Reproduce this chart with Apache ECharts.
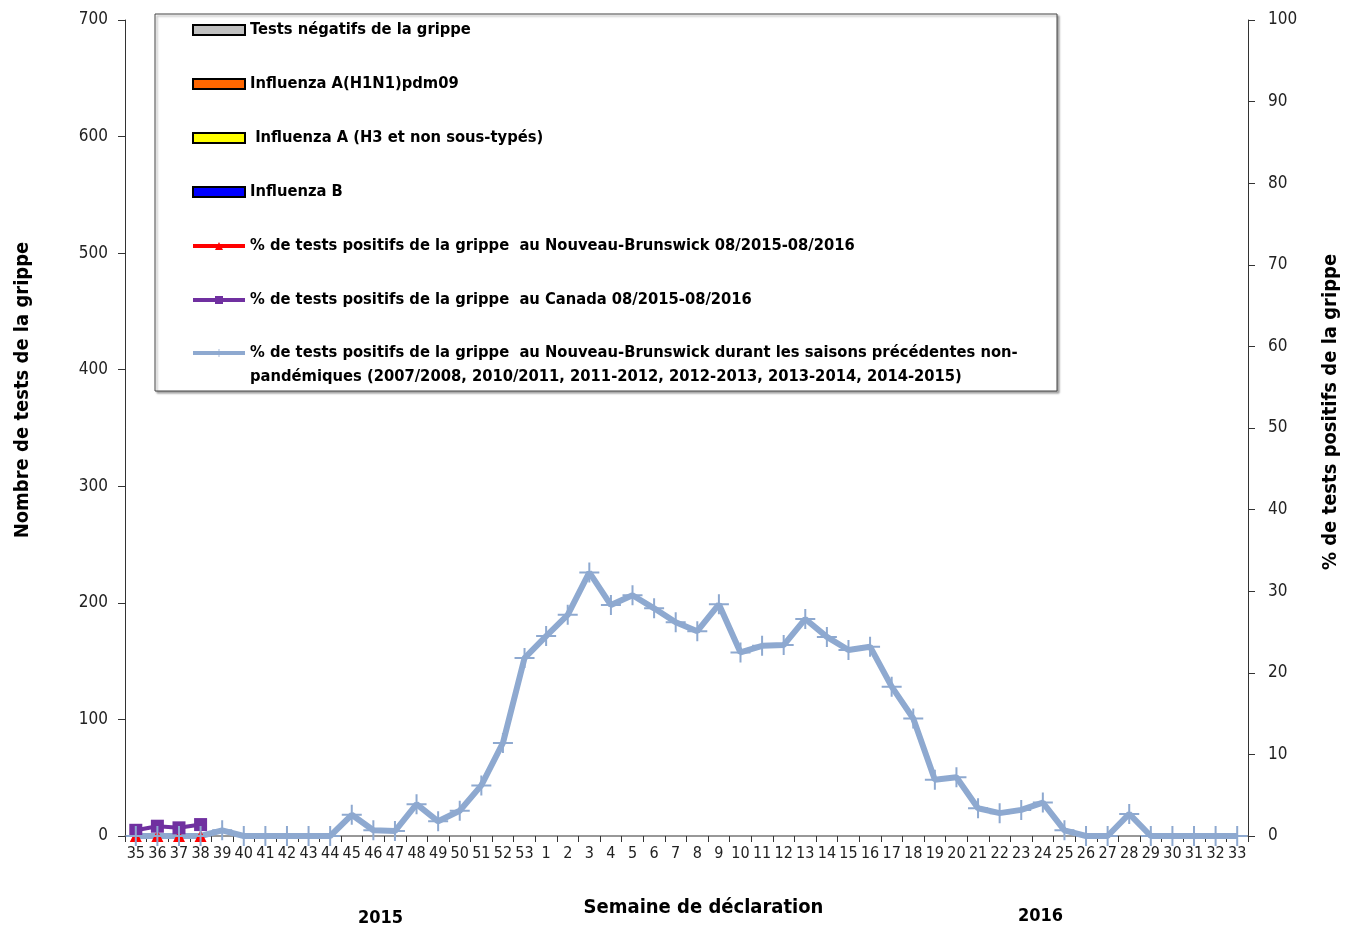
<!DOCTYPE html>
<html><head><meta charset="utf-8">
<script src="https://cdn.jsdelivr.net/npm/echarts@6/dist/echarts.min.js"></script>
<style>html,body{margin:0;padding:0;background:#fff}#c{width:1357px;height:929px}</style>
</head><body><div id="c"></div>
<script>
const weeks = ['35','36','37','38','39','40','41','42','43','44','45','46','47','48','49','50','51','52','53',
  '1','2','3','4','5','6','7','8','9','10','11','12','13','14','15','16','17','18','19','20','21','22','23','24','25','26','27','28','29','30','31','32','33'];
const negatifs = [0,0,0,0];
const h1n1 = [0,0,0,0];
const h3 = [0,0,0,0];
const fluB = [0,0,0,0];
const pctNB = [0,0,0,0];
const pctCanada = [0.7,1.2,1.0,1.4];
const pctHist = [0,0,0,0,0.7,0,0,0,0,0,2.6,0.7,0.6,3.9,1.8,3.1,6.2,11.4,21.8,
  24.5,27.1,32.3,28.3,29.5,27.9,26.2,25.1,28.4,22.5,23.3,23.4,26.6,24.4,22.8,23.2,18.3,14.4,6.9,7.2,3.4,2.8,3.2,4.1,0.7,0,0,2.7,0,0,0,0,0];
const leftTicks = {min:0,max:700,interval:100};
const rightTicks = {min:0,max:100,interval:10};

const names = ['Tests négatifs de la grippe','Influenza A(H1N1)pdm09',' Influenza A (H3 et non sous-typés)','Influenza B',
  '% de tests positifs de la grippe  au Nouveau-Brunswick 08/2015-08/2016',
  '% de tests positifs de la grippe  au Canada 08/2015-08/2016',
  '% de tests positifs de la grippe  au Nouveau-Brunswick durant les saisons précédentes non-\npandémiques (2007/2008, 2010/2011, 2011-2012, 2012-2013, 2013-2014, 2014-2015)'];

const FONT = '"Liberation Sans Narrow","Arial Narrow","DejaVu Sans Condensed",sans-serif';
const plus = 'path://M-1,-10 H1 V-1 H10 V1 H1 V10 H-1 V1 H-10 V-1 H-1 Z';
const chart = echarts.init(document.getElementById('c'));
const barBorder = {borderColor:'#000',borderWidth:2};
const legendText = {fontFamily:FONT,fontWeight:'bold',fontSize:16.4,color:'#000',lineHeight:20};
chart.setOption({
  animation:false,
  textStyle:{fontFamily:FONT},
  grid:{left:125,right:109,top:20,bottom:93},
  graphic:[
    {type:'rect',shape:{x:155,y:14,width:902,height:377},style:{fill:'#fff',stroke:'#444',lineWidth:1,shadowBlur:2,shadowOffsetX:2,shadowOffsetY:2,shadowColor:'rgba(0,0,0,0.35)'},z:0,silent:true},
    {type:'text',left:358,top:909,style:{text:'2015',font:'bold 18px '+FONT,fill:'#000'}},
    {type:'text',left:1018,top:907,style:{text:'2016',font:'bold 18px '+FONT,fill:'#000'}}
  ],
  legend:[{
    orient:'vertical',left:186,top:15,itemGap:34,itemWidth:52,itemHeight:10,
    textStyle:legendText,
    data:[
      {name:names[0],icon:'rect',itemStyle:barBorder},
      {name:names[1],icon:'rect',itemStyle:barBorder},
      {name:names[2],icon:'rect',itemStyle:barBorder},
      {name:names[3],icon:'rect',itemStyle:barBorder},
      {name:names[4],lineStyle:{width:4}},
      {name:names[5],lineStyle:{width:4}}
    ]
  },{
    orient:'vertical',left:186,top:312,itemWidth:52,itemHeight:10,
    textStyle:Object.assign({},legendText,{lineHeight:24}),
    formatter:function(n){return '\n'+n;},
    data:[{name:names[6],lineStyle:{width:4}}]
  }],
  xAxis:{
    type:'category',data:weeks,boundaryGap:true,
    name:'Semaine de déclaration',nameLocation:'middle',nameGap:62,
    nameTextStyle:{fontFamily:FONT,fontWeight:'bold',fontSize:20,color:'#000',padding:[0,0,0,34]},
    axisLine:{lineStyle:{color:'#777',width:1.5}},
    axisTick:{show:true,alignWithLabel:false,length:6,lineStyle:{color:'#333'}},
    axisLabel:{interval:0,fontSize:16,color:'#222',margin:10}
  },
  yAxis:[
    {type:'value',min:leftTicks.min,max:leftTicks.max,interval:leftTicks.interval,position:'left',
     name:'Nombre de tests de la grippe',nameLocation:'middle',nameGap:92,
     nameTextStyle:{fontFamily:FONT,fontWeight:'bold',fontSize:20,color:'#000',padding:[0,0,0,76]},
     axisLine:{show:true,lineStyle:{color:'#333'}},axisTick:{show:true,length:7,lineStyle:{color:'#333'}},
     axisLabel:{fontSize:17,color:'#222',margin:17},splitLine:{show:false}},
    {type:'value',min:rightTicks.min,max:rightTicks.max,interval:rightTicks.interval,position:'right',
     name:'% de tests positifs de la grippe',nameLocation:'middle',nameGap:73,nameRotate:90,
     nameTextStyle:{fontFamily:FONT,fontWeight:'bold',fontSize:20,color:'#000',padding:[0,0,0,32]},
     axisLine:{show:true,lineStyle:{color:'#333'}},axisTick:{show:true,length:7,lineStyle:{color:'#333'}},
     axisLabel:{fontSize:17,color:'#222',margin:20},splitLine:{show:false}}
  ],
  series:[
    {name:names[0],type:'bar',stack:'t',data:negatifs,itemStyle:{color:'#C0C0C0'}},
    {name:names[1],type:'bar',stack:'t',data:h1n1,itemStyle:{color:'#FF6600'}},
    {name:names[2],type:'bar',stack:'t',data:h3,itemStyle:{color:'#FFFF00'}},
    {name:names[3],type:'bar',stack:'t',data:fluB,itemStyle:{color:'#0000FF'}},
    {name:names[4],type:'line',yAxisIndex:1,data:pctNB,
     symbol:'triangle',symbolSize:12,lineStyle:{color:'#FF0000',width:3},itemStyle:{color:'#FF0000'}},
    {name:names[5],type:'line',yAxisIndex:1,data:pctCanada,
     symbol:'rect',symbolSize:13,lineStyle:{color:'#7030A0',width:4},itemStyle:{color:'#7030A0'}},
    {name:names[6],type:'line',yAxisIndex:1,data:pctHist,symbol:plus,symbolSize:20,symbolKeepAspect:true,
     lineStyle:{color:'#8EA9D0',width:6},itemStyle:{color:'#8EA9D0'}}
  ]
});
</script></body></html>
